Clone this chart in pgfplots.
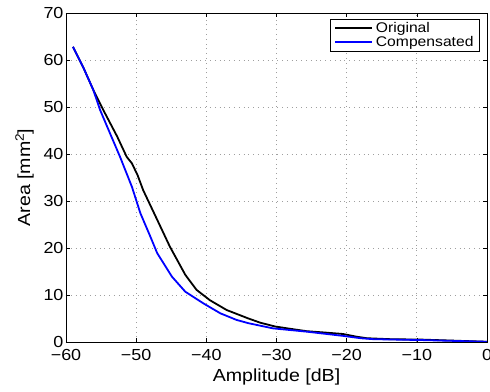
\documentclass[border=0pt]{standalone}
\usepackage{fontspec}
\setmainfont{Liberation Sans}[FakeStretch=1.12]
\usepackage{pgfplots}
\pgfplotsset{compat=1.18}
\begin{document}
\begin{tikzpicture}
\begin{axis}[
  scale only axis,
  width=421pt, height=329pt,
  xmin=-60, xmax=0, ymin=0, ymax=70,
  xtick={-60,-50,...,0},
  xticklabels={−60,−50,−40,−30,−20,−10,0},
  ytick={0,10,...,70},
  /pgf/number format/assume math mode=true,
  tick align=inside,
  major tick length=4pt,
  tick style={black, line width=0.5pt},
  axis line style={black, line width=0.8pt},
  grid=major,
  grid style={dash pattern=on 0.8pt off 4pt, gray!75, line width=0.7pt},
  ticklabel style={font=\fontsize{16}{17}\selectfont},
  xticklabel style={yshift=-4pt},
  yticklabel style={xshift=1pt},
  xlabel={Amplitude [dB]},
  ylabel={Area [mm$^{\mathrm{2}}$]},
  label style={font=\fontsize{17.5}{19}\selectfont},
  xlabel style={yshift=-1pt},
  ylabel style={yshift=3pt},
  legend style={at={(rel axis cs:0.983,0.982)}, anchor=north east,
    draw=black, line width=0.6pt, font=\fontsize{14}{15}\selectfont,
    inner xsep=4pt, inner ysep=1pt, legend cell align=left,
    /tikz/row sep=-1.5pt, /tikz/column sep=1pt},
  legend image code/.code={\draw[#1,line width=1.8pt] (0cm,0cm) -- (1.3cm,0cm);},
]
\addplot[black, line width=1.8pt] coordinates {
(-59,62.8) (-57.5,58.3) (-56.1,53.6) (-54.7,49.4) (-52.7,43.7)
(-51.35,39.4) (-50.6,38.0) (-49.8,35.5) (-49,32.3) (-47,26) (-45.2,20.3)
(-43,14.3) (-41.4,11.1) (-39.5,8.9) (-37.1,6.8) (-35.2,5.7) (-34,5.0)
(-32.3,4.1) (-30.2,3.3) (-28,2.8) (-25.7,2.3) (-23,2.0) (-20.5,1.7)
(-18.5,1.1) (-17.1,0.8) (-13.8,0.6) (-9.1,0.5) (-5,0.3) (0,0.05)
};
\addlegendentry{Original}
\addplot[blue, line width=1.8pt] coordinates {
(-59,62.8) (-57.5,58.3) (-56.1,53.6) (-55.15,49.4) (-53.7,44.3) (-52.3,39.4)
(-50.6,33.0) (-49.4,27.4) (-48,22.5) (-47,18.9) (-44.9,13.9)
(-43,10.7) (-40.4,8.2) (-38,6.1) (-35.7,4.7) (-34,4.0) (-30.5,2.9)
(-25.7,2.2) (-20.5,1.3) (-18,0.8) (-16.2,0.6) (-9,0.4) (0,0.05)
};
\addlegendentry{Compensated}
\end{axis}
\pgfresetboundingbox
\path (current axis.south west) ++(-66pt,-50pt) rectangle ([shift={(3pt,13pt)}]current axis.north east);
\end{tikzpicture}
\end{document}
